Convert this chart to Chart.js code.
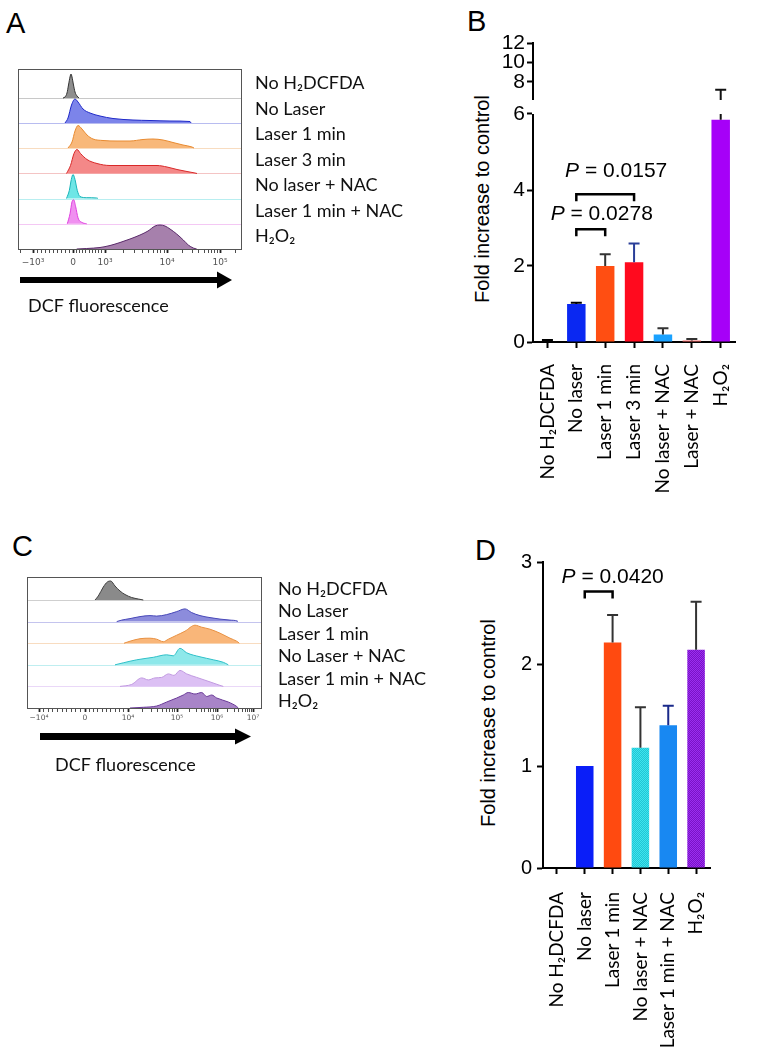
<!DOCTYPE html>
<html>
<head>
<meta charset="utf-8">
<script src="https://cdn.jsdelivr.net/npm/chart.js@4.4.1/dist/chart.umd.min.js"></script>
<style>
  body { margin: 0; background: #fff; }
  #page { position: relative; width: 760px; height: 1050px; overflow: hidden; }
  canvas { position: absolute; }
  .letter { position: absolute; font-family: "Liberation Sans", Arial, sans-serif; font-size: 29px; line-height: 1; color: #000; }
  .ytitle { position: absolute; font-family: "Liberation Sans", Arial, sans-serif; font-size: 20px; line-height: 1; white-space: nowrap;
            transform: translate(-50%, -50%) rotate(-90deg); color: #000; }
</style>
</head>
<body>
<div id="page">
  <div class="letter" style="left:6px;top:9px">A</div>
  <div class="letter" style="left:467px;top:7px">B</div>
  <div class="letter" style="left:12px;top:532px">C</div>
  <div class="letter" style="left:475px;top:536px">D</div>
  <div class="ytitle" style="left:482px;top:199px">Fold increase to control</div>
  <div class="ytitle" style="left:488px;top:723px">Fold increase to control</div>

  <canvas id="histA" width="420" height="265" style="left:0;top:60px"></canvas>
  <canvas id="histC" width="440" height="225" style="left:0;top:560px"></canvas>
  <canvas id="barB" width="340" height="464" style="left:420px;top:28px"></canvas>
  <canvas id="barD" width="320" height="505" style="left:440px;top:545px"></canvas>
</div>
<script>
// ---------- panel A: DCF histograms (x in display units, h = peak height) ----------
const aLabels = ["No H₂DCFDA", "No Laser", "Laser 1 min", "Laser 3 min", "No laser + NAC", "Laser 1 min + NAC", "H₂O₂"];
const aTickLabels = ["−10³", "0", "10³", "10⁴", "10⁵"];
const aTickPos = [15, 55, 87, 149, 202];

const aNoDyeX = [45, 47, 49, 50.5, 52, 53, 54, 55.5, 57, 59, 61];
const aNoDyeH = [0, 1, 5, 13, 21, 24, 21, 13, 6, 2, 0];
const aNoLaserX = [47, 50, 53.5, 57, 60, 65, 72, 82, 95, 115, 132, 152, 172, 173];
const aNoLaserH = [0, 5, 18, 24, 21, 14, 10, 7, 4.5, 3, 2.5, 2, 1.5, 0];
const aLaser1X = [50, 54, 57, 60, 64, 69, 75, 85, 99, 112, 125, 135, 145, 155, 165, 174, 176];
const aLaser1H = [0, 6, 17, 22.5, 19, 13, 9, 7.5, 7, 7, 8.5, 9, 8, 5.5, 3, 1, 0];
const aLaser3X = [48.5, 52.5, 56, 59, 62.5, 69, 79, 92, 109, 125, 139, 149, 159, 169, 177, 179];
const aLaser3H = [0, 8, 20, 24, 20, 14, 10, 8, 8, 8, 8, 6.5, 4, 2, 0.5, 0];
const aNacX = [48.5, 51.3, 53.3, 55, 57, 59.3, 62, 68.7, 78.7, 80];
const aNacH = [0, 8, 19, 24, 19, 8, 2, 0.8, 0.5, 0];
const aLaserNacX = [49.3, 52, 54, 55.7, 57.7, 60, 63.7, 68.7];
const aLaserNacH = [0, 10, 22, 24, 17, 6, 1.5, 0];
const aH2o2X = [58.7, 68.7, 82, 92, 102, 112, 122, 130, 137, 142, 147, 152, 158.7, 165.3, 170.3, 175.3, 178.7];
const aH2o2H = [0, 0.5, 1.5, 3.5, 6.5, 10, 14, 18, 23, 24, 23, 20, 15, 9, 4, 1, 0];

// ---------- panel C ----------
const cLabels = ["No H₂DCFDA", "No Laser", "Laser 1 min", "No Laser + NAC", "Laser 1 min + NAC", "H₂O₂"];
const cTickLabels = ["−10⁴", "0", "10⁴", "10⁵", "10⁶", "10⁷"];
const cTickPos = [12, 58, 101, 150, 190, 226];

const cNoDyeX = [68, 71.3, 76.3, 80.3, 83.7, 88, 93, 98, 104.7, 111.3, 116.3];
const cNoDyeH = [0, 4, 13, 18, 19, 14, 9, 5.5, 2.5, 1, 0];
const cNoLaserX = [89.7, 94.7, 103, 113, 123, 129.7, 139.7, 149.7, 158, 164.7, 173, 183, 193, 203, 210.3, 211];
const cNoLaserH = [0, 1.5, 3, 5, 6, 5.5, 7, 10, 12.7, 9, 6, 4, 2.5, 1.5, 0.5, 0];
const cLaser1X = [97, 103, 113, 123, 129.7, 136.3, 141.3, 149.7, 158, 168, 174.7, 183, 193, 203, 209.7, 212.3];
const cLaser1H = [0, 2, 4.5, 5, 4, 1.5, 4, 8, 12, 18, 16, 14, 10, 5, 2, 0];
const cNacX = [88, 96.3, 109.7, 126.3, 139.7, 146.3, 153, 159.7, 173, 186.3, 196.3, 201.3];
const cNacH = [0, 2, 5, 7.5, 10, 9, 16.5, 12, 8, 5, 2.5, 0];
const cLaserNacX = [93, 104.7, 114.7, 121.3, 128, 134.7, 141.3, 147, 153, 159.7, 169.7, 183, 193, 196.3];
const cLaserNacH = [0, 2, 8.5, 6.5, 8.5, 9, 12.5, 11, 16, 12.5, 9, 4.5, 1, 0];
const cH2o2X = [103, 116.3, 129.7, 139.7, 149.7, 156.3, 161.3, 168, 174.7, 179.7, 184.7, 189.7, 201.3, 209.7, 211.3];
const cH2o2H = [0, 0.7, 2, 6, 10, 13, 15.5, 14, 15.5, 11.5, 13, 10, 6, 1.5, 0];

// ---------- panel B: fold increase (axis broken between 6 and 6.15) ----------
const bCats = ["No H₂DCFDA", "No laser", "Laser 1 min", "Laser 3 min", "No laser + NAC", "Laser + NAC", "H₂O₂"];
const bMean = [0.02, 1.0, 2.0, 2.1, 0.2, 0.04, 5.85];
const bErrTop = [0.05, 1.03, 2.31, 2.59, 0.36, 0.08, 7.2];
const bTicks = [0, 2, 4, 6, 8, 10, 12];
const bBreak = [6, 6.15];

// ---------- panel D ----------
const dCats = ["No H₂DCFDA", "No laser", "Laser 1 min", "No laser + NAC", "Laser 1 min + NAC", "H₂O₂"];
const dMean = [0, 1.0, 2.21, 1.18, 1.40, 2.14];
const dErrTop = [null, null, 2.48, 1.575, 1.59, 2.61];

// ------------------------------------------------------------------
const TXT = '"Lato", "Open Sans", sans-serif';
const ARIAL = '"Liberation Sans", Arial, sans-serif';

function checker(c1, c2) {
  const p = document.createElement('canvas');
  p.width = p.height = 2;
  const g = p.getContext('2d');
  g.fillStyle = c1; g.fillRect(0, 0, 2, 2);
  g.fillStyle = c2; g.fillRect(0, 0, 1, 1); g.fillRect(1, 1, 1, 1);
  return g.createPattern(p, 'repeat');
}

// linear scale with a break: lower part 0..6 gets most of the height,
// a short gap, then a compressed upper part up to max
class BrokenScale extends Chart.LinearScale {
  static id = 'broken';
  _dec(v) {
    const [lo, hi] = bBreak;
    const fL = 228 / 299, fG = 14 / 299, fU = 57 / 299;
    if (v <= lo) return (v - this.min) / (lo - this.min) * fL;
    if (v < hi) return fL + (v - lo) / (hi - lo) * fG;
    return fL + fG + (v - hi) / (this.max - hi) * fU;
  }
  getPixelForValue(v) { return this.getPixelForDecimal(this._dec(v)); }
  drawBorder() {
    const ctx = this.ctx;
    const x = Math.round(this.right);
    ctx.save();
    ctx.strokeStyle = '#000';
    ctx.lineWidth = 2;
    ctx.beginPath();
    ctx.moveTo(x, this.getPixelForValue(this.min) + 1);
    ctx.lineTo(x, this.getPixelForValue(bBreak[0]));
    ctx.moveTo(x, this.getPixelForValue(bBreak[1]));
    ctx.lineTo(x, this.getPixelForValue(this.max) - 1);
    ctx.stroke();
    ctx.restore();
  }
}
Chart.register(BrokenScale);

// tick marks for the flow axes: linear minors round zero, log minors in decades
function flowTicks(major, max) {
  const out = [];
  const w0 = major[1] - major[0];
  for (let m = 2; m <= 9; m++) {
    const v = major[0] - Math.log10(m) * w0;
    if (v > 0) out.push(v);
  }
  for (let k = 0; k < major.length - 1; k++) {
    const a = major[k], b = major[k + 1];
    out.push(a);
    for (let m = 1; m <= 9; m++) {
      if (k < 2) out.push(a + (b - a) * m / 10);
      else if (m > 1) out.push(a + (b - a) * Math.log10(m));
    }
  }
  const last = major[major.length - 1];
  const w = last - major[major.length - 2];
  out.push(last);
  for (let m = 2; m <= 9; m++) {
    const v = last + Math.log10(m) * w;
    if (v < max) out.push(v);
  }
  return out;
}

function ridge(xs, hs, base, fill, line) {
  return {
    data: xs.map((x, k) => ({ x: x, y: base + hs[k] })),
    fill: { value: base },
    backgroundColor: fill,
    borderColor: line,
    borderWidth: 1,
    pointRadius: 0,
    cubicInterpolationMode: 'monotone'
  };
}

const ridgePlugin = {
  id: 'ridge',
  beforeDatasetsDraw(chart, args, o) {
    const { ctx, chartArea: a, scales: { y } } = chart;
    ctx.save();
    ctx.lineWidth = 1.2;
    o.bases.forEach((b, i) => {
      if (b === 0) return;
      const py = Math.round(y.getPixelForValue(b)) + 0.5;
      ctx.strokeStyle = o.lineColors[i];
      ctx.beginPath(); ctx.moveTo(a.left, py); ctx.lineTo(a.right, py); ctx.stroke();
    });
    ctx.restore();
  },
  afterDraw(chart, args, o) {
    const { ctx, chartArea: a } = chart;
    ctx.save();
    ctx.strokeStyle = '#555';
    ctx.lineWidth = 1;
    ctx.strokeRect(a.left + 0.5, a.top + 0.5, a.right - a.left - 1, a.bottom - a.top);

    ctx.fillStyle = '#111';
    ctx.font = o.font;
    ctx.textBaseline = 'alphabetic';
    o.labels.forEach((t, i) => ctx.fillText(t, a.right + o.labelDx, a.top + o.labelY0 + i * o.labelStep));

    // arrow under the axis
    const ay = a.bottom + o.arrowDy;
    const tip = a.left + o.arrowX1;
    ctx.fillStyle = '#000';
    ctx.fillRect(a.left + o.arrowX0, ay - o.shaft / 2, o.arrowX1 - o.headLen - o.arrowX0, o.shaft);
    ctx.beginPath();
    ctx.moveTo(tip, ay);
    ctx.lineTo(tip - o.headLen, ay - o.headHalf);
    ctx.lineTo(tip - o.headLen, ay + o.headHalf);
    ctx.closePath();
    ctx.fill();

    ctx.fillStyle = '#111';
    ctx.fillText('DCF fluorescence', a.left + o.textDx, a.bottom + o.textDy);
    ctx.restore();
  }
};

function histChart(id, sets, bases, lineColors, labels, tickPos, tickLabels, tickFont, tickPad, xMax, yMax, pad, lay) {
  const ticks = flowTicks(tickPos, xMax);
  return new Chart(document.getElementById(id), {
    type: 'line',
    data: { datasets: sets },
    options: {
      responsive: false,
      animation: false,
      events: [],
      layout: { autoPadding: false, padding: pad },
      plugins: {
        legend: { display: false },
        tooltip: { enabled: false },
        ridge: Object.assign({ bases: bases, lineColors: lineColors, labels: labels, font: '18px ' + TXT }, lay)
      },
      scales: {
        x: {
          type: 'linear', min: 0, max: xMax,
          afterBuildTicks: s => { s.ticks = ticks.map(v => ({ value: v })); },
          afterFit: s => { s.height = 20; },
          border: { display: false },
          grid: {
            drawOnChartArea: false, tickLength: 4, tickColor: '#222',
            tickWidth: c => (c.tick && tickPos.includes(c.tick.value)) ? 1.8 : 0.8
          },
          ticks: {
            autoSkip: false, maxRotation: 0, padding: tickPad, color: '#555',
            font: { family: '"DejaVu Sans"', size: tickFont },
            callback: v => { const i = tickPos.indexOf(v); return i >= 0 ? tickLabels[i] : ''; }
          }
        },
        y: { display: false, min: 0, max: yMax }
      }
    },
    plugins: [ridgePlugin]
  });
}

// panel A
const aBases = [151, 126, 101, 75.5, 50.5, 25.2, 0];
histChart('histA', [
  ridge(aNoDyeX, aNoDyeH, aBases[0], '#8e8e8e', '#333'),
  ridge(aNoLaserX, aNoLaserH, aBases[1], '#7c84ea', '#1e28c8'),
  ridge(aLaser1X, aLaser1H, aBases[2], '#f8b87a', '#e88a30'),
  ridge(aLaser3X, aLaser3H, aBases[3], '#f48888', '#d82828'),
  ridge(aNacX, aNacH, aBases[4], '#6ee6e6', '#18b4b8'),
  ridge(aLaserNacX, aLaserNacH, aBases[5], '#f090f0', '#e040e0'),
  ridge(aH2o2X, aH2o2H, aBases[6], '#a680ac', '#5a2a6a')
], aBases, ['#c8c8c8', '#b8bcf0', '#f8dcc0', '#f4c4c4', '#b8eef0', '#f4c8f4', '#ccc'],
  aLabels, aTickPos, aTickLabels, 9, 4, 224, 180,
  { left: 18, right: 178, top: 9, bottom: 56 },
  { labelDx: 13, labelY0: 20, labelStep: 25.5, arrowDy: 31, arrowX0: 2, arrowX1: 214, headLen: 15, headHalf: 8.5, shaft: 6, textDx: 10, textDy: 63 });

// panel C
const cBases = [108, 86.4, 64.8, 43.2, 21.6, 0];
histChart('histC', [
  ridge(cNoDyeX, cNoDyeH, cBases[0], '#8a8a8a', '#404040'),
  ridge(cNoLaserX, cNoLaserH, cBases[1], '#8c8cdc', '#4848b8'),
  ridge(cLaser1X, cLaser1H, cBases[2], '#f9b679', '#e89040'),
  ridge(cNacX, cNacH, cBases[3], '#8ee8ea', '#30c0c8'),
  ridge(cLaserNacX, cLaserNacH, cBases[4], '#dcc0f4', '#c098e0'),
  ridge(cH2o2X, cH2o2H, cBases[5], '#a884c8', '#6a3a98')
], cBases, ['#cfcfcf', '#c4c4ee', '#f8dcc0', '#bfeef0', '#ead8f8', '#ccc'],
  cLabels, cTickPos, cTickLabels, 7.5, 2, 235, 131,
  { left: 27, right: 178, top: 17, bottom: 57 },
  { labelDx: 16, labelY0: 18, labelStep: 22.4, arrowDy: 28.5, arrowX0: 13, arrowX1: 224, headLen: 16, headHalf: 8, shaft: 7, textDx: 28, textDy: 63 });

// ---------- bar charts ----------
const errPlugin = {
  id: 'errbars',
  afterDatasetsDraw(chart, args, o) {
    const { ctx, chartArea: a, scales: { y } } = chart;
    const gap = o && o.gap;
    chart.data.datasets.forEach((ds, di) => {
      if (!ds.errTop) return;
      const meta = chart.getDatasetMeta(di);
      ctx.save();
      ctx.lineWidth = 2;
      meta.data.forEach((bar, i) => {
        const e = ds.errTop[i], v = ds.data[i];
        if (e == null) return;
        const segs = (gap && v < gap[0] && e > gap[1]) ? [[v, gap[0]], [gap[1], e]] : [[v, e]];
        const top = y.getPixelForValue(e);
        ctx.strokeStyle = ds.errColor[i];
        ctx.beginPath();
        segs.forEach(s => { ctx.moveTo(bar.x, y.getPixelForValue(s[0])); ctx.lineTo(bar.x, y.getPixelForValue(s[1])); });
        ctx.moveTo(bar.x - 5.5, top); ctx.lineTo(bar.x + 5.5, top);
        ctx.stroke();
      });
      ctx.restore();
    });
  }
};

const bracketPlugin = {
  id: 'brackets',
  afterDatasetsDraw(chart, args, o) {
    if (!o.items) return;
    const { ctx, scales: { x, y } } = chart;
    ctx.save();
    o.items.forEach(b => {
      const x1 = x.getPixelForValue(b.from), x2 = x.getPixelForValue(b.to), py = y.getPixelForValue(b.at);
      ctx.strokeStyle = '#000';
      ctx.lineWidth = 2.5;
      ctx.beginPath();
      ctx.moveTo(x1, py + 7); ctx.lineTo(x1, py); ctx.lineTo(x2, py); ctx.lineTo(x2, py + 7);
      ctx.stroke();
      const rest = ' = ' + b.p;
      ctx.fillStyle = '#000';
      ctx.textBaseline = 'alphabetic';
      ctx.font = 'italic 21px ' + ARIAL;
      const wP = ctx.measureText('P').width;
      ctx.font = '21px ' + ARIAL;
      const w = wP + ctx.measureText(rest).width;
      const left = (x1 + x2) / 2 + o.shift - w / 2;
      const base = py - b.lift;
      ctx.font = 'italic 21px ' + ARIAL;
      ctx.fillText('P', left, base);
      ctx.font = '21px ' + ARIAL;
      ctx.fillText(rest, left + wP, base);
    });
    ctx.restore();
  }
};

function axisStyle(extra) {
  return Object.assign({
    border: { color: '#000', width: 2 },
    grid: { drawOnChartArea: false, offset: false, tickLength: 6, tickWidth: 2, tickColor: '#000' }
  }, extra);
}

const bColors = ['#111111', '#0a28f2', '#ff4e12', '#ff0a1e', '#1aa2ff', '#ff6a6a', '#a600f8'];
const bErrColors = ['#000', '#000', '#333', '#2a3e98', '#333', '#333', '#111'];

new Chart(document.getElementById('barB'), {
  type: 'bar',
  data: { labels: bCats, datasets: [{ data: bMean, backgroundColor: bColors, errTop: bErrTop, errColor: bErrColors, barPercentage: 0.64, categoryPercentage: 1 }] },
  options: {
    responsive: false, animation: false, events: [],
    layout: { autoPadding: false, padding: { left: 77, right: 7, top: 15, bottom: 0 } },
    plugins: {
      legend: { display: false }, tooltip: { enabled: false },
      errbars: { gap: bBreak },
      brackets: { shift: 11, items: [
        { from: 1, to: 3, at: 3.89, p: '0.0157', lift: 17 },
        { from: 1, to: 2, at: 2.97, p: '0.0278', lift: 9 }
      ] }
    },
    scales: {
      x: axisStyle({
        afterFit: s => { s.height = 150; },
        ticks: { color: '#000', font: { family: TXT, size: 19 }, minRotation: 90, maxRotation: 90, padding: 16, autoSkip: false }
      }),
      y: axisStyle({
        type: 'broken', min: 0, max: 12,
        afterFit: s => { s.width = 36; },
        afterBuildTicks: s => { s.ticks = bTicks.map(v => ({ value: v })); },
        ticks: { autoSkip: false, color: '#000', font: { family: ARIAL, size: 21 }, padding: 2 }
      })
    }
  },
  plugins: [errPlugin, bracketPlugin]
});

const dColors = ['#000', '#0a1ef8', '#ff4a10', checker('#3ee6ee', '#22c4d4'), '#1888f2', checker('#9a2ef0', '#7a12c6')];
const dErrColors = ['#000', '#000', '#333', '#333', '#1a2a8a', '#333'];

new Chart(document.getElementById('barD'), {
  type: 'bar',
  data: { labels: dCats, datasets: [{ data: dMean, backgroundColor: dColors, errTop: dErrTop, errColor: dErrColors, barPercentage: 0.63, categoryPercentage: 1 }] },
  options: {
    responsive: false, animation: false, events: [],
    layout: { autoPadding: false, padding: { left: 67, right: 50, top: 17, bottom: 0 } },
    plugins: {
      legend: { display: false }, tooltip: { enabled: false },
      brackets: { shift: 14, items: [{ from: 1, to: 2, at: 2.71, p: '0.0420', lift: 9 }] }
    },
    scales: {
      x: axisStyle({
        afterFit: s => { s.height = 182; },
        ticks: { color: '#000', font: { family: TXT, size: 19 }, minRotation: 90, maxRotation: 90, padding: 18, autoSkip: false }
      }),
      y: axisStyle({
        min: 0, max: 3,
        afterFit: s => { s.width = 36; },
        ticks: { stepSize: 1, color: '#000', font: { family: ARIAL, size: 20 }, padding: 5 }
      })
    }
  },
  plugins: [errPlugin, bracketPlugin]
});
</script>
</body>
</html>
